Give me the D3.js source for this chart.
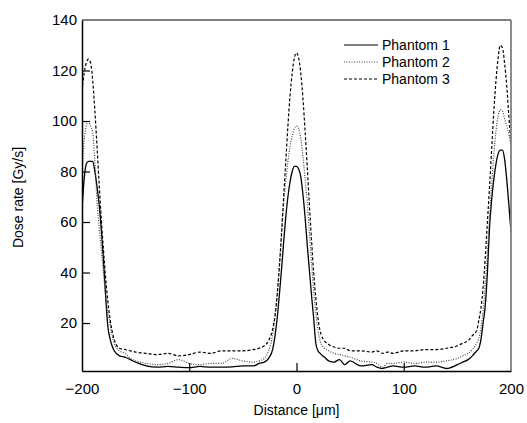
<!DOCTYPE html>
<html>
<head>
  <meta charset="utf-8">
  <title>Dose rate profile</title>
  <script src="https://d3js.org/d3.v7.min.js"></script>
  <style>
    html, body { margin: 0; background: #fff; }
    svg { display: block; }
    text { font-family: "Liberation Sans", Arial, sans-serif; fill: #000; }
  </style>
</head>
<body>
<svg id="chart" width="527" height="423"></svg>
<script>
  // distance positions [um]
  const distance = [-200, -198, -196, -194, -192, -190, -188, -186, -184, -182, -180, -178, -176, -174, -172, -170,
    -165, -160, -155, -150, -140, -130, -120, -110, -100, -90, -80, -70, -60, -50, -40, -35, -30, -26, -22, -20,
    -18, -16, -14, -12, -10, -8, -6, -4, -2, 0, 2, 4, 6, 8, 10, 12, 14, 16, 18, 20, 22, 26, 30, 35, 40, 45, 50,
    60, 70, 75, 80, 85, 90, 100, 110, 120, 130, 140, 150, 155, 160, 164, 168, 170, 172, 174, 176, 178, 180, 182,
    184, 186, 188, 190, 192, 194, 196, 198, 200];

  const phantom1 = [65, 77, 83, 84, 84, 84, 80, 74, 67, 57, 45, 31, 19, 14, 11, 9,
    7, 6.5, 5.5, 4.5, 3, 2.5, 2.8, 2.5, 2.3, 2.8, 2.5, 2.5, 2.6, 3, 3, 4, 4.5, 6, 10, 15,
    22, 31, 41, 52, 62, 70, 76, 80, 82, 82, 81, 78, 71, 62, 51, 41, 31, 22, 12, 9, 8, 6.5, 5, 4.5, 5.5, 3.5, 5,
    3, 3.5, 2.5, 2, 2.5, 3, 2.5, 3, 2.5, 3, 2, 3.5, 4.5, 5.5, 7, 9, 10, 13.5, 20, 27, 40, 58, 69,
    77, 83, 87, 88.5, 88.5, 85, 77, 67, 56];

  const phantom2 = [80, 92, 98, 99.7, 98, 95.5, 84, 68, 58, 49, 40, 31, 24, 20, 15, 12,
    9, 8, 6, 5, 4, 3.5, 4, 5.5, 4, 3.5, 4, 4, 6, 5, 4.5, 5, 6, 9, 16, 23,
    32, 43, 55, 67, 76, 84, 90, 94, 97, 98, 97, 93, 86, 77, 68, 56, 44, 33, 24, 17, 13, 10, 9, 8, 7.5, 7, 6.5,
    5, 4.5, 4, 2.5, 4, 4, 4.5, 4, 4.5, 4.5, 5, 6, 7, 8, 9.5, 12, 14, 18, 25, 35, 48, 62, 75,
    87, 96, 102, 104.5, 104, 101, 98, 95, 90];

  const phantom3 = [112, 119, 123, 124.5, 123, 116, 104, 90, 75, 61, 49, 38, 29, 22, 17, 13.5,
    10, 9.5, 9, 8.5, 8, 7.5, 8, 7, 7.5, 8.5, 8, 9, 9, 9, 9.5, 10, 11, 13, 18, 23,
    31, 42, 55, 70, 84, 98, 110, 119, 125, 127, 125, 119, 109, 96, 82, 67, 53, 40, 30, 22, 17, 13, 11.5, 10.5, 10, 10, 9,
    9, 8.5, 9, 8, 8.5, 8, 9, 9, 9.5, 9.5, 10, 11, 12, 13, 15, 17, 21, 26, 34, 46, 60, 74, 89,
    104, 116, 125, 130, 129, 123, 114, 102, 91];

  const seriesNames = ["Phantom 1", "Phantom 2", "Phantom 3"];
  const seriesValues = [phantom1, phantom2, phantom3];
  const dashes = [null, "1,1.5", "3,2"];
  const colors = ["#000", "#444", "#000"];

  const yTicks = [20, 40, 60, 80, 100, 120, 140];
  const xTicks = [-200, -100, 0, 100, 200];

  const svg = d3.select("#chart");
  const x = d3.scaleLinear().domain([-200, 200]).range([82, 511]);
  const y = d3.scaleLinear().domain([1, 140]).range([371, 20]);

  svg.append("clipPath").attr("id", "plot")
    .append("rect")
    .attr("x", x(-200)).attr("y", y(140))
    .attr("width", x(200) - x(-200)).attr("height", y(1) - y(140));

  // lines
  const line = d3.line()
    .x((d, i) => x(distance[i]))
    .y(d => y(d))
    .curve(d3.curveMonotoneX);

  const lines = svg.append("g").attr("clip-path", "url(#plot)");
  seriesValues.forEach((vals, k) => {
    lines.append("path")
      .datum(vals)
      .attr("fill", "none")
      .attr("stroke", colors[k])
      .attr("stroke-width", k === 0 ? 1.3 : 1.2)
      .attr("stroke-dasharray", dashes[k])
      .attr("d", line);
  });

  // frame: grey top/right, black left/bottom
  svg.append("line")
    .attr("x1", x(-200)).attr("x2", x(200)).attr("y1", y(140)).attr("y2", y(140))
    .attr("stroke", "#808080").attr("stroke-width", 1.8);
  svg.append("line")
    .attr("x1", x(200)).attr("x2", x(200)).attr("y1", y(140)).attr("y2", y(1))
    .attr("stroke", "#808080").attr("stroke-width", 1.8);

  const yAxis = d3.axisLeft(y).tickValues(yTicks).tickSizeInner(-8).tickSizeOuter(0).tickPadding(5);
  const gy = svg.append("g").attr("transform", `translate(${x(-200)},0)`).call(yAxis);
  gy.select(".domain").attr("stroke", "#000").attr("stroke-width", 1.5);
  gy.selectAll(".tick line").attr("stroke", "#000").attr("stroke-width", 1.2);
  gy.selectAll(".tick text").attr("font-size", 15).attr("fill", "#000")
    .attr("font-family", "Liberation Sans, Arial, sans-serif");
  gy.selectAll(".tick").filter(d => d === 140).select("line").remove();

  const xAxis = d3.axisBottom(x).tickValues(xTicks).tickSizeInner(-8).tickSizeOuter(0).tickPadding(12);
  const gx = svg.append("g").attr("transform", `translate(0,${y(1)})`).call(xAxis);
  gx.select(".domain").attr("stroke", "#000").attr("stroke-width", 1.5);
  gx.selectAll(".tick line").attr("stroke", "#000").attr("stroke-width", 1.2);
  gx.selectAll(".tick text").attr("font-size", 15).attr("fill", "#000")
    .attr("font-family", "Liberation Sans, Arial, sans-serif")
    .text(d => d < 0 ? "\u2212" + Math.abs(d) : d);
  gx.selectAll(".tick").filter(d => d === -200 || d === 200).select("line").remove();

  // axis titles
  svg.append("text")
    .attr("x", (x(-200) + x(200)) / 2).attr("y", 415)
    .attr("text-anchor", "middle").attr("font-size", 14)
    .text("Distance [\u03bcm]");
  svg.append("text")
    .attr("transform", `translate(23,${(y(1) + y(140)) / 2 + 2}) rotate(-90)`)
    .attr("text-anchor", "middle").attr("font-size", 14)
    .text("Dose rate [Gy/s]");

  // legend
  const legend = svg.append("g");
  const legendY = [45, 62, 79];
  seriesNames.forEach((name, k) => {
    legend.append("line")
      .attr("x1", 344).attr("x2", 378)
      .attr("y1", legendY[k]).attr("y2", legendY[k])
      .attr("stroke", colors[k]).attr("stroke-width", 1.2)
      .attr("stroke-dasharray", dashes[k]);
    legend.append("text")
      .attr("x", 382).attr("y", legendY[k] + 5)
      .attr("font-size", 14)
      .text(name);
  });
</script>
</body>
</html>
